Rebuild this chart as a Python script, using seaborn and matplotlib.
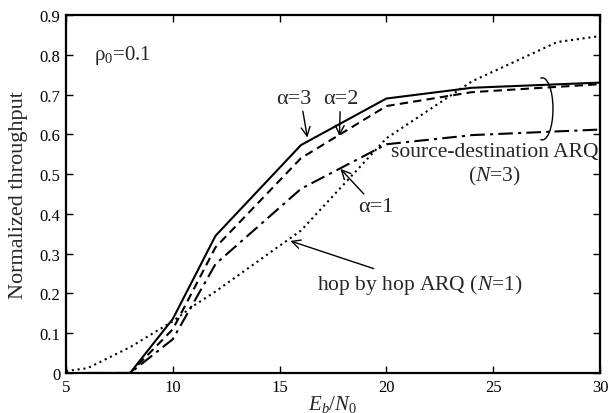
import numpy as np
import pandas as pd
import seaborn as sns
from matplotlib import pyplot as plt
from matplotlib.patches import Arc

# values (Eb/N0 in dB -> normalized throughput)
snr_sd = [6, 8, 10, 12, 16, 20, 24, 30]
alpha3 = [0.0, 0.0, 0.136, 0.345, 0.573, 0.690, 0.717, 0.730]
alpha2 = [0.0, 0.0, 0.110, 0.316, 0.540, 0.671, 0.706, 0.726]
alpha1 = [0.0, 0.0, 0.085, 0.274, 0.463, 0.575, 0.598, 0.612]

snr_hop = [5, 6, 8, 10, 11, 12, 16, 20, 24, 28, 30]
hop = [0.005, 0.012, 0.065, 0.130, 0.170, 0.205, 0.358, 0.590, 0.733, 0.832, 0.847]

x_ticks = [5, 10, 15, 20, 25, 30]
y_ticks = [0, 0.1, 0.2, 0.3, 0.4, 0.5, 0.6, 0.7, 0.8, 0.9]

sns.set_theme(style='ticks')
plt.rcParams['font.family'] = ['Liberation Serif', 'DejaVu Serif']
plt.rcParams['mathtext.fontset'] = 'custom'
plt.rcParams['mathtext.rm'] = 'Liberation Serif'
plt.rcParams['mathtext.it'] = 'Liberation Serif:italic'

fig = plt.figure(figsize=(6.08, 4.14), dpi=100)
ax = fig.add_axes([0.1086, 0.0966, 0.8782, 0.8648])

df = pd.DataFrame({'x': snr_sd, 'a3': alpha3, 'a2': alpha2, 'a1': alpha1})
sns.lineplot(data=df, x='x', y='a3', ax=ax, color='black', lw=1.5)
sns.lineplot(data=df, x='x', y='a2', ax=ax, color='black', lw=1.5)
sns.lineplot(data=df, x='x', y='a1', ax=ax, color='black', lw=1.5)
sns.lineplot(x=snr_hop, y=hop, ax=ax, color='black', lw=1.5)
ax.lines[1].set_dashes([4, 2.5])
ax.lines[2].set_dashes([7, 2.5, 1.5, 2.5])
ax.lines[3].set_dashes([1, 1.8])

ax.set_xlim(5, 30)
ax.set_ylim(0, 0.9)
ax.set_xticks(x_ticks)
ax.set_yticks(y_ticks)
ax.set_yticklabels(['0' if v == 0 else f'{v:.1f}' for v in y_ticks])
ax.tick_params(direction='in', top=True, right=True, labelsize=12, length=5, width=1, pad=4, colors='black')
for s in ax.spines.values():
    s.set_linewidth(1.6)
    s.set_color('black')

ax.set_xlabel('$E_b/N_0$', fontsize=15, labelpad=-1)
ax.set_ylabel('Normalized throughput', fontsize=16, labelpad=8)

ax.text(6.3, 0.79, 'ρ$_{\\mathrm{0}}$=0.1', fontsize=15)

arw = dict(arrowstyle='->', color='black', lw=1, shrinkA=0, shrinkB=0)
ax.annotate('α=3', xy=(16.3, 0.592), xytext=(15.65, 0.69), fontsize=16, ha='center', va='center',
            arrowprops=dict(arw, relpos=(0.75, 0.0)))
ax.annotate('α=2', xy=(17.8, 0.596), xytext=(17.85, 0.689), fontsize=16, ha='center', va='center',
            arrowprops=arw)
ax.annotate('α=1', xy=(17.85, 0.513), xytext=(19.5, 0.418), fontsize=16, ha='center', va='center',
            arrowprops=arw)
ax.annotate('hop by hop ARQ ($\\mathit{N}$=1)', xy=(15.5, 0.332), xytext=(16.75, 0.224), fontsize=15.5,
            ha='left', va='center', arrowprops=arw)
ax.text(25.05, 0.556, 'source-destination ARQ', fontsize=15.5, ha='center', va='center')
ax.text(25.05, 0.496, '($\\mathit{N}$=3)', fontsize=15.5, ha='center', va='center')
ax.add_patch(Arc((27.3, 0.664), 1.0, 0.156, theta1=-140, theta2=140, color='black', lw=1))

fig.savefig('out.png', dpi=100)
